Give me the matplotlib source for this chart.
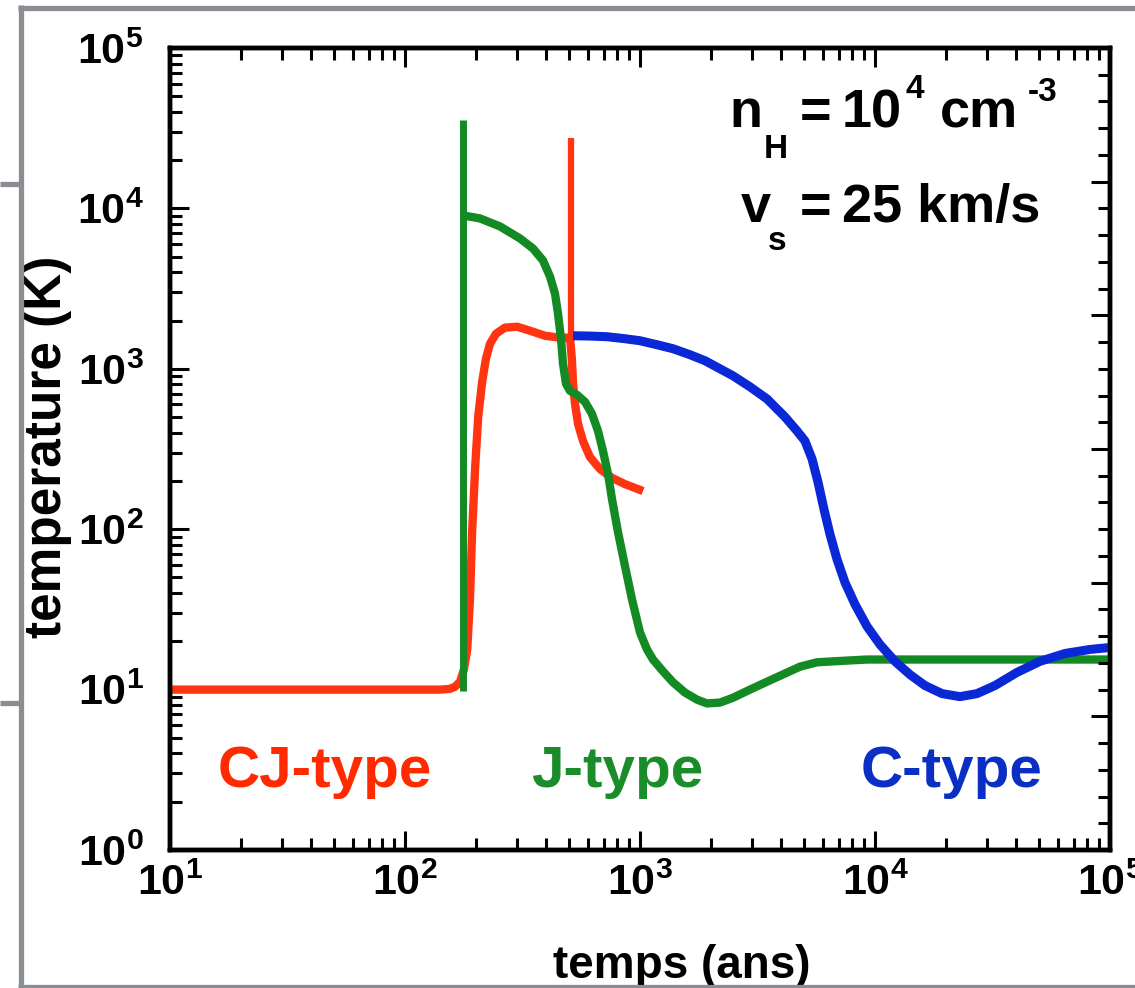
import numpy as np
import matplotlib
matplotlib.use("Agg")
import matplotlib.pyplot as plt
from matplotlib.ticker import LogLocator, FuncFormatter, NullFormatter, MultipleLocator
from matplotlib.lines import Line2D

plt.rcParams["font.family"] = ["Liberation Sans", "DejaVu Sans"]
plt.rcParams["font.weight"] = "bold"
plt.rcParams["mathtext.fontset"] = "custom"
plt.rcParams["mathtext.rm"] = "Liberation Sans:bold"
plt.rcParams["mathtext.it"] = "Liberation Sans:bold"
plt.rcParams["mathtext.bf"] = "Liberation Sans:bold"

# CJ-type shock (red), time in years, temperature in K
cj_t = [10, 100, 141, 155, 163, 171.6, 178, 184, 189, 193, 199, 205, 213, 221, 230,
        244, 266, 300, 340, 394, 457, 503.6, 513, 519, 529, 545, 572, 612, 676,
        760, 863, 1030]
cj_T = [10, 10, 10, 10.1, 10.4, 11.2, 13.3, 17.8, 36.5, 95.8, 248, 508, 829, 1155,
        1433, 1655, 1805, 1830, 1728, 1607, 1563, 1563, 1155, 806, 604, 453, 355,
        282, 237, 209, 191, 173]
cj_spike_t = 508
cj_spike_T = (800, 27400)

# J-type shock (green)
j_spike_t = 177
j_spike_T = (9.8, 35500)
j_t = [176.5, 208.5, 253.7, 308.6, 350.5, 386.6, 414.0, 434.8, 447.8, 461.2, 470.3,
       484.3, 503.6, 539.5, 583.4, 624.8, 662.7, 696.0, 730.9, 760.1, 806.2, 863.5,
       924.7, 1000, 1071, 1136, 1253, 1382, 1554, 1748, 1928, 2190, 2488, 2938,
       3471, 4140, 4797, 5665, 6627, 7829, 9247, 1e5]
j_T = [9040, 8660, 7718, 6494, 5623, 4732, 3758, 2943, 2207, 1540, 1075, 806, 729,
       688, 622, 523, 410, 307, 221, 154, 95.8, 58.7, 36.5, 22.7, 17.8, 15.4, 13.0,
       11.1, 9.58, 8.66, 8.2, 8.3, 8.9, 10.0, 11.2, 12.6, 13.9, 14.8, 15.0, 15.2,
       15.4, 15.4]

# C-type shock (blue)
c_t = [519, 612, 724, 863, 1000, 1180, 1382, 1634, 1893, 2190, 2488, 2938, 3471,
       4140, 4656, 5035, 5396, 5719, 6067, 6433, 6891, 7450, 8221, 9247, 10500,
       12160, 14090, 16320, 19290, 23000, 27170, 32410, 40200, 50350, 64350,
       82240, 1e5]
c_T = [1607, 1600, 1585, 1540, 1496, 1413, 1334, 1223, 1122, 1000, 904, 772, 649,
       501, 410, 355, 274, 197, 133, 93, 64.9, 46.6, 34, 24.8, 19.1, 15.0, 12.4,
       10.6, 9.44, 9.04, 9.44, 10.6, 12.8, 15.0, 16.8, 17.8, 18.3]

RED = "#ff3512"
GREEN = "#138a24"
BLUE = "#0a28d6"

W, H = 1135, 988


def fpos(x, y):
    # pixel position -> figure fraction
    return x / W, 1 - y / H


fig = plt.figure(figsize=(W / 100, H / 100), dpi=100)
x0, y0 = fpos(170, 850)
x1, y1 = fpos(1110, 48)
ax = fig.add_axes([x0, y0, x1 - x0, y1 - y0])

line_kw = dict(solid_capstyle="butt", solid_joinstyle="round")
ax.plot(cj_t, cj_T, color=RED, lw=6, zorder=2, **line_kw)
ax.vlines(cj_spike_t, *cj_spike_T, color=RED, lw=4.5, zorder=2)
ax.vlines(j_spike_t, *j_spike_T, color=GREEN, lw=5, zorder=3)
ax.plot(j_t, j_T, color=GREEN, lw=6, zorder=3, **line_kw)
ax.plot(c_t, c_T, color=BLUE, lw=6.5, zorder=4, **line_kw)

ax.set_xscale("log")
ax.set_yscale("log")
ax.set_xlim(10, 1e5)
ax.set_ylim(1, 1e5)

fmt = FuncFormatter(lambda v, p: r"$10^{%d}$" % int(round(np.log10(v))))
for axis in (ax.xaxis, ax.yaxis):
    axis.set_major_locator(LogLocator(base=10, numticks=10))
    axis.set_minor_locator(LogLocator(base=10, subs=np.arange(2, 10), numticks=10))
    axis.set_major_formatter(fmt)
    axis.set_minor_formatter(NullFormatter())

ax.tick_params(which="both", direction="in", top=True, right=False, width=2.2,
               labelsize=31)
ax.tick_params(which="major", length=14)
ax.tick_params(which="minor", length=8.5)
ax.tick_params(axis="y", pad=19)
ax.tick_params(axis="x", pad=10)
for s in ax.spines.values():
    s.set_linewidth(3.2)

# right-hand axis: plain linear ticks, no labels
axr = ax.twinx()
axr.set_ylim(0, 6)
axr.yaxis.set_major_locator(MultipleLocator(1))
axr.yaxis.set_minor_locator(MultipleLocator(0.2))
axr.tick_params(which="both", direction="in", width=2.2, labelright=False)
axr.tick_params(which="major", length=14)
axr.tick_params(which="minor", length=8.5)
for s in axr.spines.values():
    s.set_linewidth(3.2)

# annotations, written piece by piece (big text, small sub/superscripts)
BIG, SMALL = 39, 24
pieces = [
    ("n", 729, 127, BIG), ("H", 764, 158, SMALL), ("=", 800, 127, BIG),
    ("10", 842, 127, BIG), ("4", 906, 98, SMALL), ("cm", 940, 127, BIG),
    ("-3", 1028, 101, SMALL),
    ("v", 741, 222, BIG), ("s", 768, 250, SMALL), ("=", 800, 222, BIG),
    ("25 km/s", 842, 222, BIG),
]
for s, px, py, size in pieces:
    fig.text(*fpos(px, py), s, fontsize=size, fontweight="bold",
             ha="left", va="baseline")

fig.text(*fpos(325, 772), "CJ-type", color="#ff2a00", fontsize=42,
         fontweight="bold", ha="center", va="center")
fig.text(*fpos(617, 772), "J-type", color="#1a8c2a", fontsize=42,
         fontweight="bold", ha="center", va="center")
fig.text(*fpos(952, 772), "C-type", color="#0b2ec4", fontsize=42,
         fontweight="bold", ha="center", va="center")

fig.text(*fpos(48, 447), "temperature (K)", rotation=90, fontsize=37,
         fontweight="bold", ha="center", va="center")
fig.text(*fpos(682, 978), "temps (ans)", fontsize=33,
         fontweight="bold", ha="center", va="baseline")

# grey screenshot frame
GREY = "#8a8d91"
frame = [([20.5, 20.5], [5, 988]), ([18, 1135], [8.5, 8.5]),
         ([18, 1135], [986.5, 986.5]), ([0, 20], [184, 184]), ([0, 20], [703, 703])]
for xs, ys in frame:
    fx = [x / W for x in xs]
    fy = [1 - y / H for y in ys]
    fig.add_artist(Line2D(fx, fy, color=GREY, lw=3.8, transform=fig.transFigure,
                          solid_capstyle="butt", zorder=10))

fig.savefig("out.png", dpi=100)
